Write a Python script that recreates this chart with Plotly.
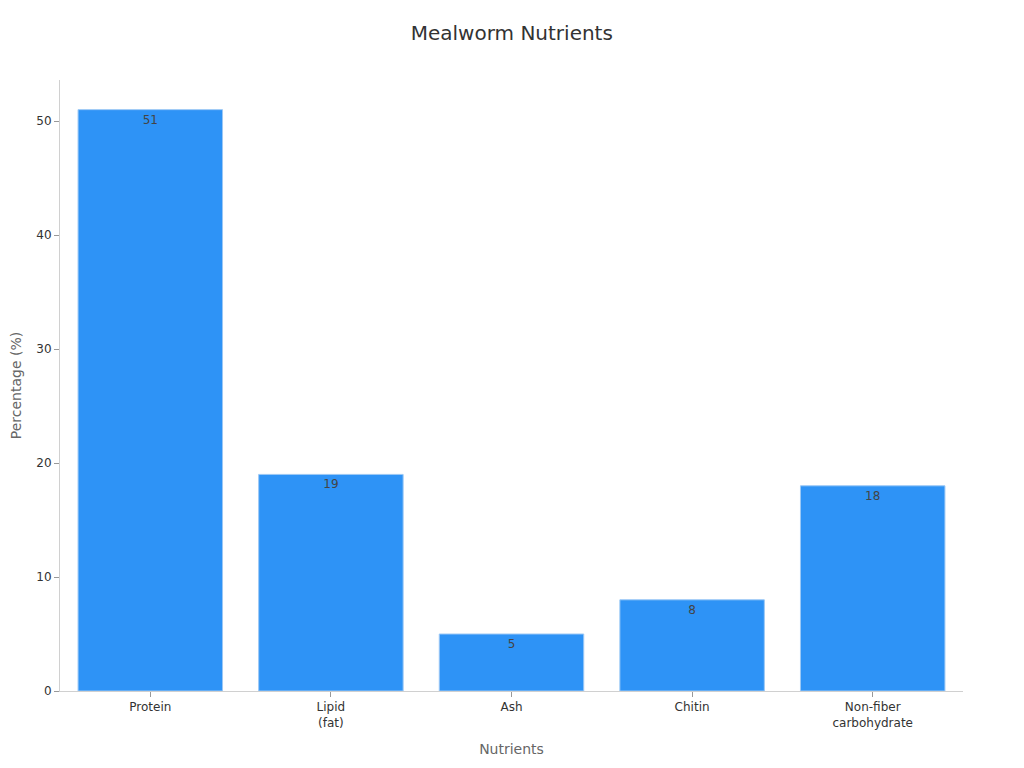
import plotly.graph_objects as go

nutrients = ["Protein", "Lipid<br>(fat)", "Ash", "Chitin", "Non-fiber<br>carbohydrate"]
percentages = [51, 19, 5, 8, 18]
y_ticks = [0, 10, 20, 30, 40, 50]

fig = go.Figure()
fig.add_trace(
    go.Bar(
        x=nutrients,
        y=percentages,
        text=percentages,
        textposition="inside",
        insidetextanchor="end",
        textfont=dict(color="#444444", size=12),
        marker=dict(color="#2E93F6", line=dict(color="#9CC8F5", width=1)),
        width=0.8,
    )
)

# page body adds an 8px offset, so margins are shifted to compensate
fig.update_layout(
    width=1024,
    height=768,
    title=dict(text="Mealworm Nutrients", x=0.492, y=0.9674, xanchor="center", yanchor="middle",
               font=dict(size=20, color="#333333")),
    font=dict(family="DejaVu Sans", size=12, color="#333333"),
    paper_bgcolor="white",
    plot_bgcolor="white",
    margin=dict(l=52, r=69, t=72, b=85),
    showlegend=False,
    bargap=0.2,
)
fig.update_xaxes(
    title=dict(text="Nutrients", font=dict(size=14, color="#666666")),
    showline=True, linecolor="#D0D0D0", linewidth=1,
    ticks="outside", tickcolor="#999999", ticklen=5,
    showgrid=False, automargin=False,
)
fig.update_yaxes(
    title=dict(text="Percentage (%)", font=dict(size=14, color="#666666")),
    showline=True, linecolor="#D0D0D0", linewidth=1,
    ticks="outside", tickcolor="#999999", ticklen=5,
    tickvals=y_ticks, range=[0, 53.6],
    showgrid=False, zeroline=False, automargin=False,
)

fig.write_html("out.html")
